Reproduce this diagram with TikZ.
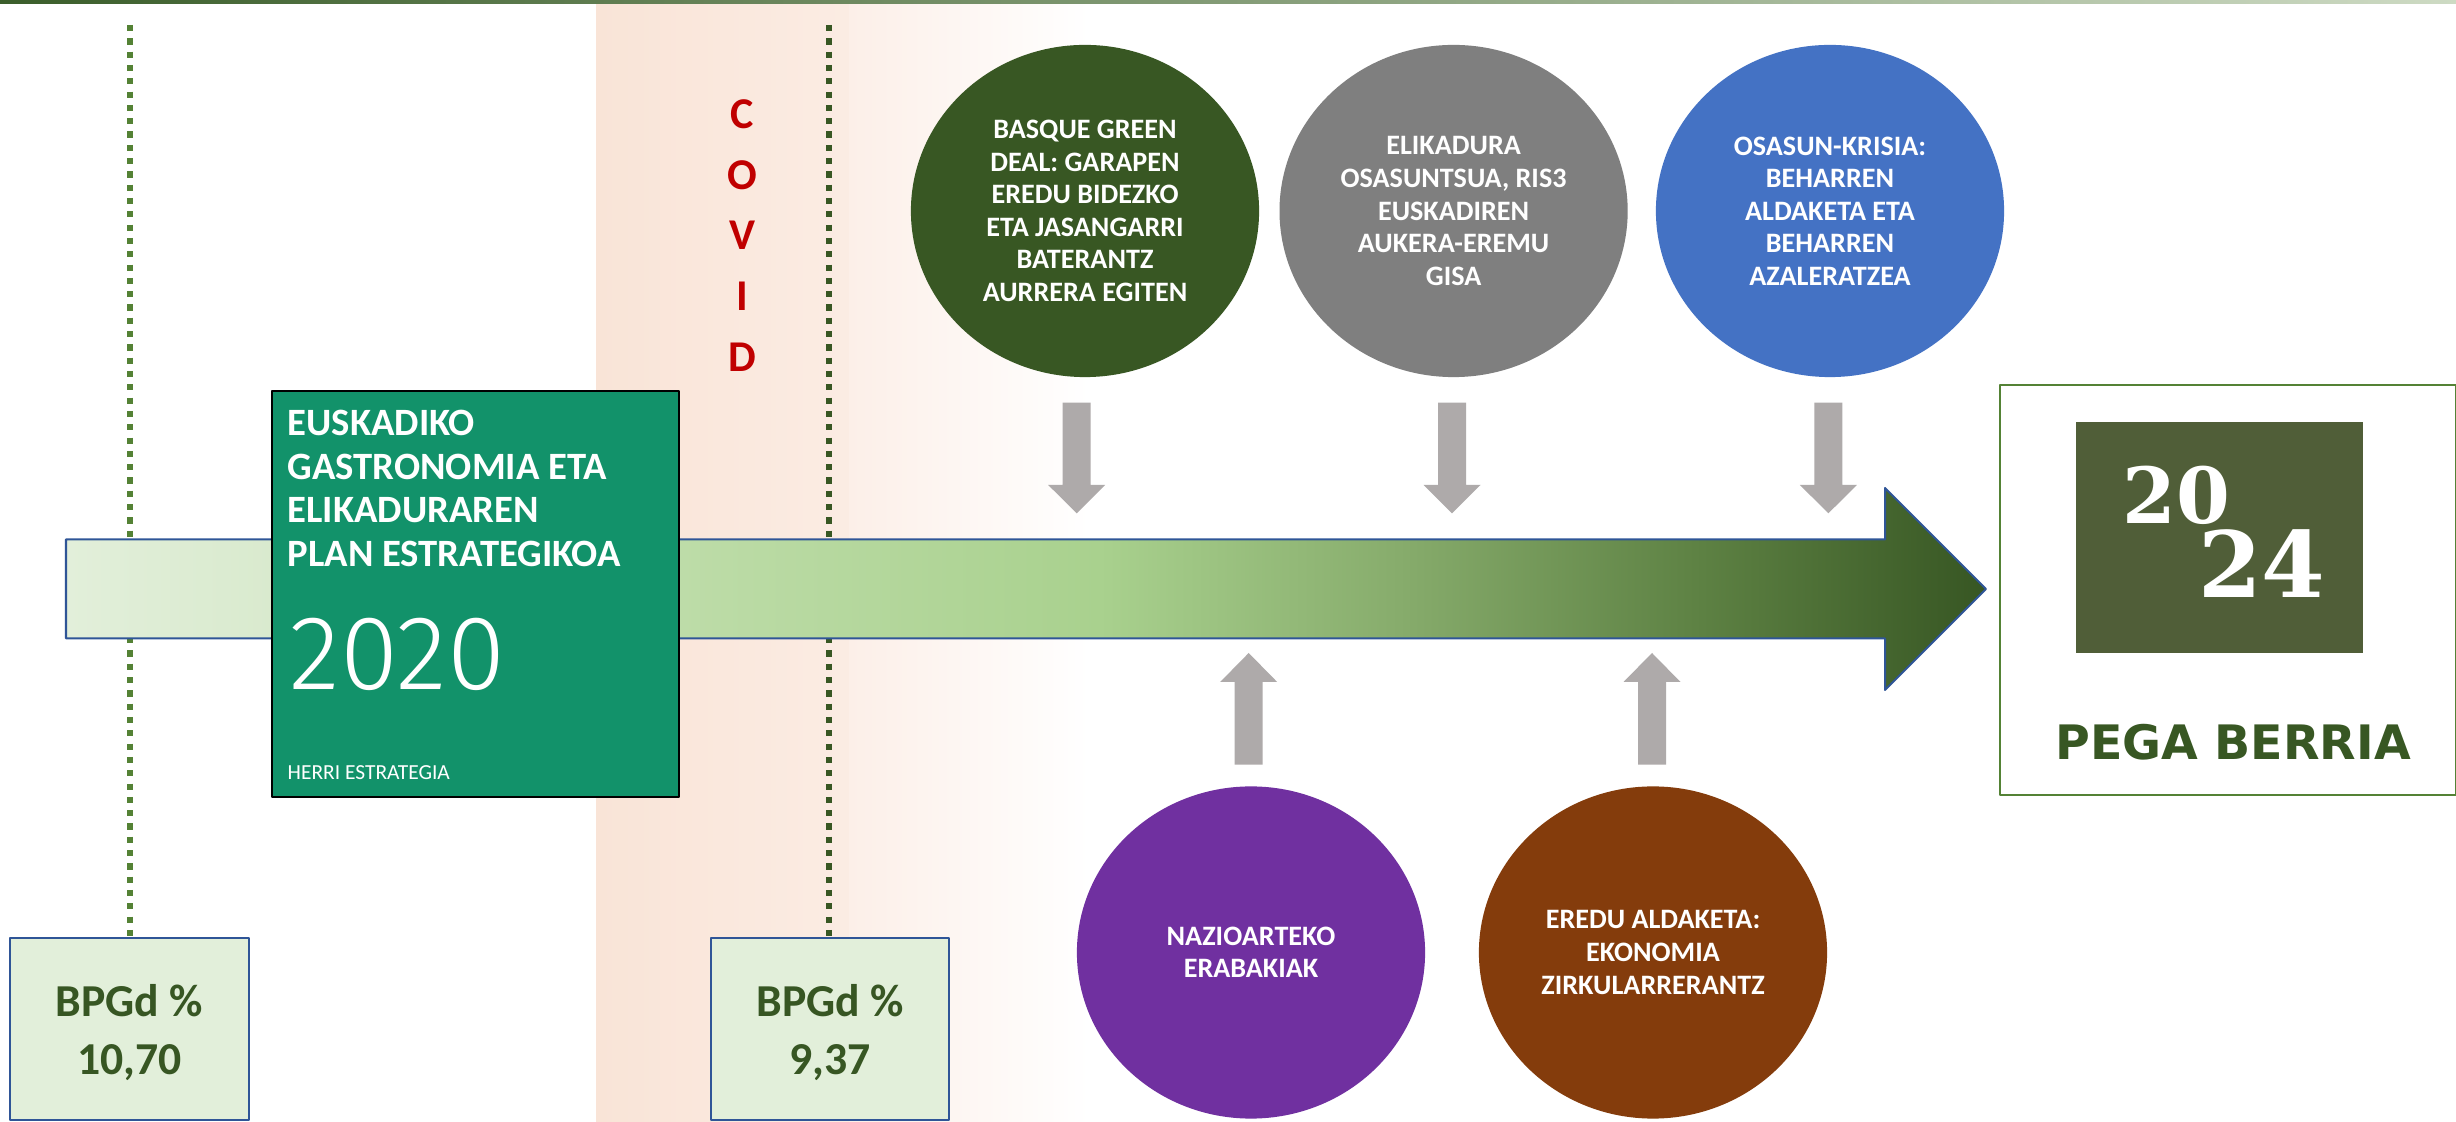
\documentclass[tikz,border=0pt]{standalone}
\usepackage{fontspec}
\setmainfont{Carlito}
\newfontfamily\pegafont{DejaVu Sans}
\newfontfamily\logofont{DejaVu Serif}
\IfFontExistsTF{Fira Sans Light}{\newfontfamily\yearfont{Fira Sans Light}}{\newfontfamily\yearfont{Fira Sans}}
\usepackage{xcolor}
\usetikzlibrary{shapes.geometric}
\definecolor{covidA}{RGB}{249,228,215}
\definecolor{covidB}{RGB}{251,236,227}
\definecolor{covidC}{RGB}{252,239,232}
\definecolor{covidred}{RGB}{192,0,0}
\definecolor{topA}{RGB}{59,94,43}
\definecolor{topB}{RGB}{205,218,195}
\definecolor{dotA}{RGB}{84,130,53}
\definecolor{dotB}{RGB}{56,87,35}
\definecolor{barblue}{RGB}{47,85,151}
\definecolor{planteal}{RGB}{18,146,106}
\definecolor{dealgreen}{RGB}{56,87,35}
\definecolor{risgray}{RGB}{127,127,127}
\definecolor{krisiablue}{RGB}{68,114,196}
\definecolor{naziopurple}{RGB}{112,48,160}
\definecolor{eredubrown}{RGB}{132,60,12}
\definecolor{arrowgray}{RGB}{174,170,170}
\definecolor{bpgdfill}{RGB}{226,239,218}
\definecolor{bpgdtext}{RGB}{55,86,35}
\definecolor{pegaborder}{RGB}{84,130,53}
\definecolor{logoolive}{RGB}{80,94,56}
\definecolor{pegatext}{RGB}{56,87,35}
\definecolor{barA}{RGB}{226,239,218}
\definecolor{barB}{RGB}{217,234,206}
\definecolor{barC}{RGB}{189,220,168}
\definecolor{barD}{RGB}{169,209,142}
\definecolor{barE}{RGB}{135,172,108}
\definecolor{barF}{RGB}{93,129,67}
\definecolor{barG}{RGB}{55,86,35}
\pgfdeclarehorizontalshading{barshade}{100bp}{color(0bp)=(barA); color(25bp)=(barA); color(30.4bp)=(barB); color(41bp)=(barC); color(51.9bp)=(barD); color(59.7bp)=(barE); color(67.6bp)=(barF); color(75bp)=(barG); color(100bp)=(barG)}
\begin{document}
\begin{tikzpicture}[line cap=round,line join=round,x=0.01cm,y=-0.01cm,
    dotline/.style={line width=0.058cm,line cap=butt,dash pattern=on 0.062cm off 0.071cm},
    bubble/.style={ellipse,minimum width=3.48cm,minimum height=3.32cm,inner sep=0pt,text=white,align=center,font=\bfseries\fontsize{8}{9.25}\selectfont},
    plantext/.style={anchor=base west,inner sep=0pt,text=white,font=\bfseries\fontsize{11}{12.5}\selectfont},
    bpgd/.style={align=center,inner sep=0pt,text=bpgdtext,font=\bfseries\fontsize{13}{16.5}\selectfont},
    blockarrow/.style={fill=arrowgray}]
                \useasboundingbox (0,0) rectangle (2456,1122);
                \fill [white] (0,0) rectangle (2456,1122);
                \shade [left color=covidA,right color=covidB] (596,4) rectangle (850,1122);
                \shade [left color=covidC,right color=white] (849,4) rectangle (1090,1122);
                \shade [left color=topA,right color=topB] (0,0) rectangle (2456,4);
                \node [align=center,inner sep=0pt,text=covidred,font=\bfseries\fontsize{12.5}{17.3}\selectfont] (covid) at (742,235.5) {C\\O\\V\\I\\D};
                \draw [dotline,draw=dotA] (130,25)-- (130,938);
                \draw [dotline,draw=dotB] (829,25)-- (829,938);
                \shadedraw [shading=barshade,draw=barblue,line width=0.02cm] (66,539.5)-- (1885,539.5)-- (1885,488)-- (1986,589)-- (1885,690)-- (1885,638.5)-- (66,638.5)-- cycle;
                \draw [fill=planteal,draw=black,line width=0.02cm] (272,391) rectangle (679,797);
                \node [plantext] (eusk) at (287,435.8) {EUSKADIKO};
                \node [plantext] (gastro) at (287,479.4) {GASTRONOMIA ETA};
                \node [plantext] (elik) at (287,523) {ELIKADURAREN};
                \node [plantext] (estrat) at (287,567) {PLAN ESTRATEGIKOA};
                \node [anchor=base west,inner sep=0pt,text=white,font=\yearfont\fontsize{30}{30}\selectfont] (year) at (289,690) {2020};
                \node [anchor=base west,inner sep=0pt,text=white,font=\fontsize{6.1}{7}\selectfont] (herri) at (287,780) {HERRI ESTRATEGIA};
                \node [bubble,fill=dealgreen] (deal) at (1085,211) {BASQUE GREEN\\DEAL: GARAPEN\\EREDU BIDEZKO\\ETA JASANGARRI\\BATERANTZ\\AURRERA EGITEN};
                \node [bubble,fill=risgray] (ris) at (1453.6,211) {ELIKADURA\\OSASUNTSUA, RIS3\\EUSKADIREN\\AUKERA-EREMU\\GISA};
                \node [bubble,fill=krisiablue] (krisia) at (1830,211) {OSASUN-KRISIA:\\BEHARREN\\ALDAKETA ETA\\BEHARREN\\AZALERATZEA};
                \node [bubble,fill=naziopurple] (nazio) at (1251,952.5) {NAZIOARTEKO\\ERABAKIAK};
                \node [bubble,fill=eredubrown] (eredu) at (1653,952.5) {EREDU ALDAKETA:\\EKONOMIA\\ZIRKULARRERANTZ};
                \fill [blockarrow] (1062.7,402.7)-- (1090.7,402.7)-- (1090.7,485)-- (1105.2,485)-- (1076.7,513.3)-- (1048.2,485)-- (1062.7,485)-- cycle;
                \fill [blockarrow] (1438,402.7)-- (1466,402.7)-- (1466,485)-- (1480.5,485)-- (1452,513.3)-- (1423.5,485)-- (1438,485)-- cycle;
                \fill [blockarrow] (1814.4,402.7)-- (1842.4,402.7)-- (1842.4,485)-- (1856.9,485)-- (1828.4,513.3)-- (1799.9,485)-- (1814.4,485)-- cycle;
                \fill [blockarrow] (1234.7,764.7)-- (1262.7,764.7)-- (1262.7,682)-- (1277.2,682)-- (1248.7,653)-- (1220.2,682)-- (1234.7,682)-- cycle;
                \fill [blockarrow] (1638,764.7)-- (1666,764.7)-- (1666,682)-- (1680.5,682)-- (1652,653)-- (1623.5,682)-- (1638,682)-- cycle;
                \draw [fill=bpgdfill,draw=barblue,line width=0.02cm] (10,938) rectangle (249,1120);
                \node [bpgd] (bpgdold) at (129.5,1033) {BPGd \%\\10,70};
                \draw [fill=bpgdfill,draw=barblue,line width=0.02cm] (711,938) rectangle (949,1120);
                \node [bpgd] (bpgdnew) at (830,1033) {BPGd \%\\9,37};
                \draw [draw=pegaborder,line width=0.015cm] (2000,385) rectangle (2456,795);
                \fill [logoolive] (2076,421.7) rectangle (2363,653.3);
                \node [inner sep=0pt,text=white,font=\logofont\bfseries\fontsize{22}{22}\selectfont] (twenty) at (2176.5,495) {20};
                \node [inner sep=0pt,text=white,font=\logofont\bfseries\fontsize{26}{26}\selectfont] (twentyfour) at (2261.7,564) {24};
                \node [inner sep=0pt,text=pegatext,font=\pegafont\bfseries\fontsize{13.5}{13.5}\selectfont] (pega) at (2233,742.5) {PEGA BERRIA};
\end{tikzpicture}
\end{document}
